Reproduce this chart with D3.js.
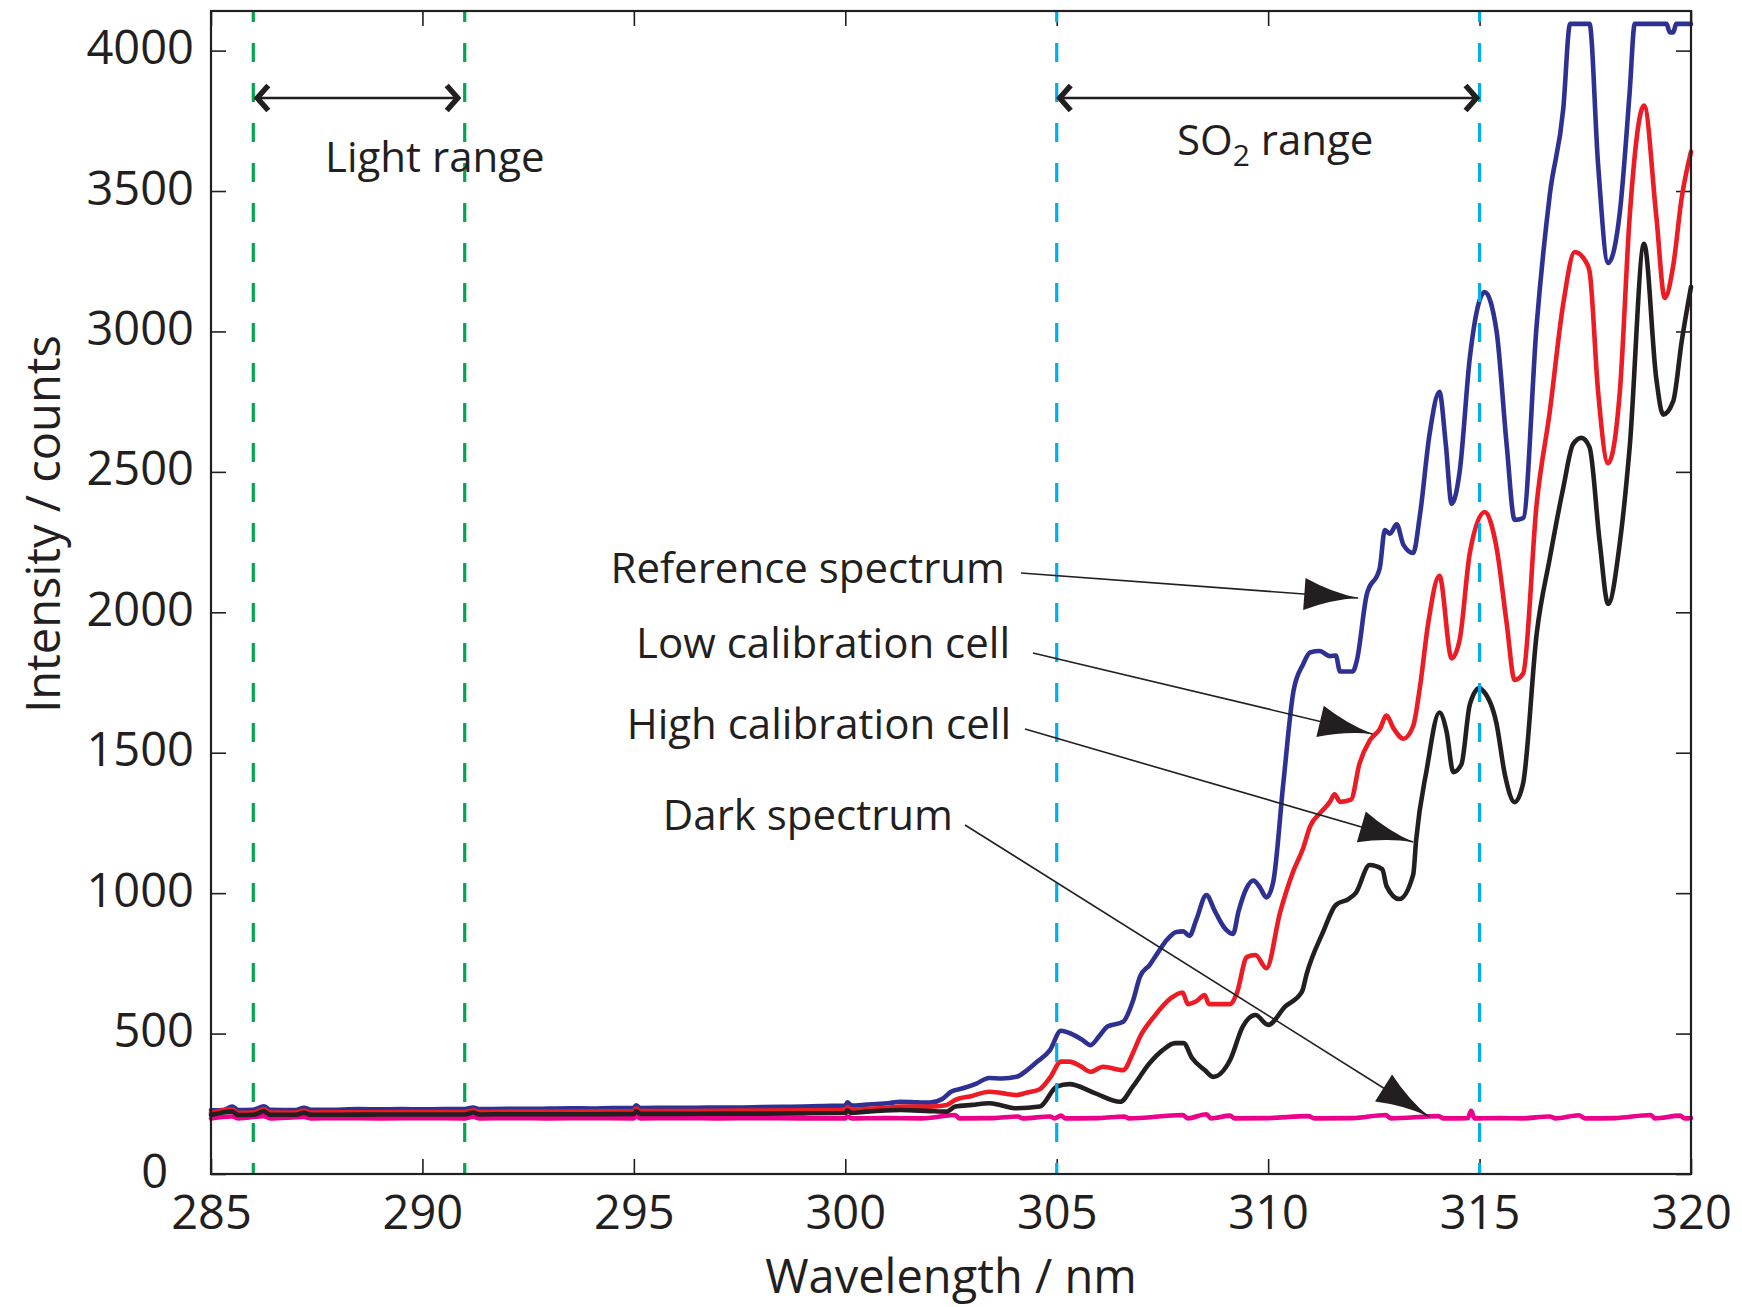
<!DOCTYPE html>
<html>
<head>
<meta charset="utf-8">
<script src="https://cdn.jsdelivr.net/npm/d3@7"></script>
<style>
  html, body { margin: 0; padding: 0; background: #ffffff; }
  svg { display: block; }
  text { font-family: "Open Sans", "Noto Sans", sans-serif; fill: #231f20; }
</style>
</head>
<body>
<svg id="chart" width="1742" height="1307"></svg>
<script>
// ---------------- DATA ----------------
const xTicks = [285, 290, 295, 300, 305, 310, 315, 320];
const yTicks = [0, 500, 1000, 1500, 2000, 2500, 3000, 3500, 4000];

// [wavelength nm, intensity counts]
const referenceSpectrum = [
[285.0,227],[285.3,228],[285.5,240],[285.65,228],[286.0,229],[286.25,241],[286.4,229],[287.0,228],[287.2,236],[287.35,229],[288.0,229],[288.5,231],[289.0,230],[289.5,231],[290.0,230],[290.5,231],[291.0,231],[291.2,237],[291.35,231],[292.0,232],[292.5,232],[293.0,233],[293.5,234],[294.0,233],[294.5,235],[295.0,235],[295.05,245],[295.15,235],[296.0,236],[296.5,236],[297.0,237],[297.5,237],[298.0,238],[298.5,239],[299.0,240],[299.5,242],[300.0,244],[300.05,255],[300.15,244],[300.5,247],[301.0,252],[301.3,257],[301.7,255],[302.0,254],[302.3,268],[302.5,293],[302.8,306],[303.1,322],[303.4,342],[303.7,340],[304.05,346],[304.3,370],[304.5,395],[304.84,441],[305.1,510],[305.3,502],[305.6,478],[305.8,459],[306.0,490],[306.2,525],[306.57,542],[306.8,615],[306.97,703],[307.2,745],[307.4,790],[307.6,833],[307.83,862],[307.99,864],[308.14,848],[308.3,905],[308.54,993],[308.74,936],[308.97,876],[309.17,855],[309.3,935],[309.49,1018],[309.65,1045],[309.8,1022],[309.96,985],[310.12,1040],[310.36,1393],[310.6,1720],[310.83,1816],[310.99,1857],[311.22,1862],[311.46,1844],[311.6,1846],[311.7,1789],[312.0,1789],[312.1,1830],[312.33,2062],[312.64,2158],[312.76,2293],[312.88,2280],[313.04,2313],[313.2,2240],[313.43,2211],[313.59,2347],[313.82,2637],[314.05,2785],[314.2,2600],[314.34,2386],[314.53,2502],[314.77,2907],[315.12,3140],[315.4,3003],[315.64,2598],[315.83,2329],[316.03,2335],[316.35,3023],[316.66,3486],[316.98,3794],[317.14,4095],[317.6,4095],[317.8,3601],[318.04,3244],[318.32,3428],[318.55,3853],[318.67,4095],[319.42,4095],[319.5,4065],[319.58,4065],[319.65,4095],[320.0,4095]
];

const lowCalibrationCell = [
[285.0,218],[285.5,230],[285.65,218],[286.0,219],[286.25,231],[286.4,219],[287.0,219],[287.2,226],[287.35,219],[288.0,220],[289.0,220],[290.0,221],[291.0,221],[291.2,227],[291.35,221],[292.0,222],[293.0,222],[294.0,223],[295.0,224],[295.05,234],[295.15,224],[296.0,224],[297.0,225],[298.0,226],[299.0,227],[300.0,228],[300.05,238],[300.15,229],[300.5,232],[301.0,236],[301.3,240],[302.0,240],[302.4,246],[302.6,264],[303.0,278],[303.4,293],[303.7,288],[304.05,281],[304.3,290],[304.6,302],[304.85,345],[305.1,400],[305.3,400],[305.55,385],[305.8,364],[306.1,382],[306.57,370],[306.8,430],[306.97,489],[307.3,560],[307.7,626],[307.98,646],[308.1,605],[308.3,615],[308.5,637],[308.6,605],[309.1,605],[309.25,640],[309.5,773],[309.7,780],[309.96,733],[310.28,930],[310.6,1080],[310.83,1161],[310.99,1237],[311.22,1284],[311.46,1325],[311.57,1352],[311.7,1325],[311.96,1333],[312.16,1461],[312.4,1543],[312.64,1584],[312.8,1632],[312.96,1588],[313.2,1550],[313.43,1595],[313.59,1734],[313.79,1966],[314.05,2130],[314.34,1836],[314.53,1903],[314.77,2212],[315.12,2357],[315.4,2231],[315.64,1962],[315.83,1759],[316.03,1782],[316.35,2386],[316.66,2714],[316.98,3100],[317.25,3283],[317.49,3254],[317.6,3215],[317.8,2791],[318.04,2531],[318.32,2791],[318.55,3409],[318.89,3804],[319.18,3409],[319.38,3119],[319.58,3235],[319.78,3476],[320.0,3640]
];

const highCalibrationCell = [
[285.0,210],[285.5,222],[285.65,210],[286.0,211],[286.25,223],[286.4,211],[287.0,211],[287.2,218],[287.35,211],[288.0,211],[289.0,212],[290.0,212],[291.0,212],[291.2,219],[291.35,212],[292.0,213],[293.0,213],[294.0,213],[295.0,214],[295.05,224],[295.15,214],[296.0,214],[297.0,215],[298.0,215],[299.0,216],[300.0,217],[300.05,226],[300.15,217],[300.5,222],[301.3,228],[302.0,224],[302.4,222],[302.6,240],[303.0,246],[303.4,252],[303.7,244],[304.05,234],[304.6,240],[305.0,311],[305.3,320],[305.9,288],[306.5,257],[306.8,311],[307.2,395],[307.5,440],[307.8,466],[308.0,466],[308.2,413],[308.5,370],[308.7,346],[309.1,406],[309.4,525],[309.7,566],[310.0,531],[310.4,596],[310.8,649],[310.91,712],[311.3,862],[311.6,958],[311.9,979],[312.07,1000],[312.4,1100],[312.7,1085],[312.8,1025],[313.1,979],[313.43,1066],[313.5,1189],[313.75,1440],[314.05,1643],[314.22,1575],[314.38,1431],[314.57,1458],[314.77,1672],[315.0,1730],[315.08,1721],[315.4,1604],[315.6,1421],[315.83,1324],[316.03,1391],[316.35,1923],[316.66,2192],[316.98,2444],[317.21,2598],[317.41,2621],[317.6,2588],[317.84,2251],[318.04,2030],[318.32,2251],[318.55,2588],[318.89,3312],[319.18,2831],[319.34,2704],[319.58,2752],[319.78,2965],[320.0,3159]
];

const darkSpectrum = [
[285.0,198],[285.5,205],[285.65,198],[286.25,206],[286.4,198],[287.2,203],[287.35,198],[288.0,199],[289.0,198],[290.0,199],[291.0,198],[291.2,204],[291.35,198],[292.0,199],[293.0,198],[294.0,199],[295.0,198],[295.05,207],[295.15,198],[296.0,199],[297.0,198],[298.0,199],[299.0,198],[300.0,198],[300.05,205],[300.15,198],[301.0,199],[301.8,198],[302.6,210],[302.7,198],[303.5,199],[304.08,205],[304.2,198],[304.84,205],[304.95,198],[305.1,208],[305.2,198],[306.0,199],[306.6,205],[306.7,198],[307.98,210],[308.1,198],[308.54,213],[308.65,198],[309.1,208],[309.2,198],[310.0,199],[310.95,206],[311.1,198],[312.0,199],[312.78,210],[312.9,198],[314.03,206],[314.15,198],[314.72,199],[314.8,225],[314.88,198],[315.5,199],[316.0,198],[316.66,205],[316.8,198],[317.35,209],[317.5,198],[318.2,199],[319.05,210],[319.15,198],[319.74,208],[319.85,198],[320.0,199]
];

const seriesNames = ["Dark spectrum", "Reference spectrum", "Low calibration cell", "High calibration cell"];
const seriesData = [darkSpectrum, referenceSpectrum, lowCalibrationCell, highCalibrationCell];
const seriesColors = ["#ec008c", "#2e3192", "#ed1c24", "#231f20"];

// range markers (nm)
const lightRange = [286, 291];
const so2Range = [305, 315];

// annotation arrow tips in data space [nm, counts]
const labelTips = [
  [312.13, 2051],   // Reference spectrum
  [312.47, 1567],   // Low calibration cell
  [313.43, 1182],   // High calibration cell
  [313.81, 204]     // Dark spectrum
];

// ---------------- LAYOUT ----------------
const svg = d3.select("#chart");
const W = 1742, H = 1307;
svg.append("rect").attr("width", W).attr("height", H).attr("fill", "#fff");

const L = 211, R = 1691, T = 11, B = 1174;
const x = d3.scaleLinear().domain([285, 320]).range([L, R]);
const y = d3.scaleLinear().domain([0, 4141]).range([B, T]);

const ink = "#231f20";
const tickFont = 47;

// axes
const gx = svg.append("g").attr("transform", `translate(0,${B})`)
  .call(d3.axisBottom(x).tickValues(xTicks).tickSize(-15).tickSizeOuter(0).tickFormat(d3.format("d")));
gx.selectAll("text").attr("y", 55).attr("dy", 0).style("font-size", tickFont + "px");

const gy = svg.append("g").attr("transform", `translate(${L},0)`)
  .call(d3.axisLeft(y).tickValues(yTicks).tickSize(-15).tickSizeOuter(0).tickPadding(17).tickFormat(d3.format("d")));
gy.selectAll("text").attr("dy", 0).attr("y", 13).style("font-size", tickFont + "px")
  .attr("dx", d => d === 0 ? -26 : 0);

svg.append("g").attr("transform", `translate(0,${T})`)
  .call(d3.axisTop(x).tickValues(xTicks).tickSize(-15).tickSizeOuter(0).tickFormat(""));
svg.append("g").attr("transform", `translate(${R},0)`)
  .call(d3.axisRight(y).tickValues(yTicks).tickSize(-15).tickSizeOuter(0).tickFormat(""));

svg.selectAll(".domain").remove();
svg.selectAll(".tick line").attr("stroke", ink).attr("stroke-width", 1.6);
svg.selectAll(".tick text").attr("fill", ink).style("font-family", '"Open Sans", sans-serif');

// curves
const line = d3.line().x(d => x(d[0])).y(d => y(d[1])).curve(d3.curveMonotoneX);
svg.append("g").selectAll("path").data(seriesData).join("path")
  .attr("d", line)
  .attr("fill", "none")
  .attr("stroke", (d, i) => seriesColors[i])
  .attr("stroke-width", 4.6)
  .attr("stroke-linejoin", "round")
  .attr("stroke-linecap", "round");

// dashed range lines
const dashes = [
  {v: lightRange[0], c: "#00a651"}, {v: lightRange[1], c: "#00a651"},
  {v: so2Range[0], c: "#00aeef"}, {v: so2Range[1], c: "#00aeef"}
];
svg.append("g").selectAll("line").data(dashes).join("line")
  .attr("x1", d => x(d.v)).attr("x2", d => x(d.v))
  .attr("y1", T).attr("y2", B)
  .attr("stroke", d => d.c).attr("stroke-width", 3.2)
  .attr("stroke-dasharray", "19,21").attr("stroke-dashoffset", 8);

// frame
svg.append("rect").attr("x", L).attr("y", T).attr("width", R - L).attr("height", B - T)
  .attr("fill", "none").attr("stroke", ink).attr("stroke-width", 2.2);

// range double arrows
function rangeArrow(r, yy, insetL, insetR) {
  const x1 = x(r[0]) + insetL, x2 = x(r[1]) - insetR;
  const g = svg.append("g");
  g.append("line").attr("x1", x1).attr("x2", x2).attr("y1", yy).attr("y2", yy)
    .attr("stroke", ink).attr("stroke-width", 2.4);
  const hw = 12.5, dl = 13;
  g.append("path").attr("d", `M${x1 + dl},${yy - hw} L${x1 + 2},${yy} L${x1 + dl},${yy + hw}`)
    .attr("fill", "none").attr("stroke", ink).attr("stroke-width", 5.5).attr("stroke-linejoin", "miter");
  g.append("path").attr("d", `M${x2 - dl},${yy - hw} L${x2 - 2},${yy} L${x2 - dl},${yy + hw}`)
    .attr("fill", "none").attr("stroke", ink).attr("stroke-width", 5.5).attr("stroke-linejoin", "miter");
}
rangeArrow(lightRange, 98, 2, 5);
rangeArrow(so2Range, 98, 1, 1);

svg.append("text").attr("x", 325).attr("y", 172).style("font-size", "42px").text("Light range");
const so2 = svg.append("text").attr("x", 1177).attr("y", 155).style("font-size", "42px");
so2.append("tspan").text("SO");
so2.append("tspan").attr("dy", 11).style("font-size", "30px").text("2");
so2.append("tspan").attr("dy", -11).text(" range");

// series labels with arrows
const labelPos = [
  {text: "Reference spectrum", tx: 1005, ty: 583, sx: 1021, sy: 573},
  {text: "Low calibration cell", tx: 1010, ty: 658, sx: 1033, sy: 653},
  {text: "High calibration cell", tx: 1011, ty: 739, sx: 1025, sy: 729},
  {text: "Dark spectrum", tx: 953, ty: 830, sx: 965, sy: 825}
];
const ann = svg.append("g");
labelPos.forEach((p, i) => {
  ann.append("text").attr("x", p.tx).attr("y", p.ty).attr("text-anchor", "end")
    .style("font-size", "42px").text(p.text);
  const tx = x(labelTips[i][0]), ty = y(labelTips[i][1]);
  ann.append("line").attr("x1", p.sx).attr("y1", p.sy).attr("x2", tx).attr("y2", ty)
    .attr("stroke", ink).attr("stroke-width", 1.6);
  const ang = Math.atan2(ty - p.sy, tx - p.sx) * 180 / Math.PI;
  const Lh = 54, Wh = 16;
  ann.append("path")
    .attr("d", `M0,0 Q${-Lh * 0.5},${-Wh * 0.22} ${-Lh},${-Wh} L${-Lh},${Wh} Q${-Lh * 0.5},${Wh * 0.22} 0,0 Z`)
    .attr("transform", `translate(${tx},${ty}) rotate(${ang})`)
    .attr("fill", ink);
});

// axis titles
svg.append("text").attr("x", 951).attr("y", 1293).attr("text-anchor", "middle")
  .style("font-size", "47px").text("Wavelength / nm");
svg.append("text").attr("transform", "translate(60,524) rotate(-90)").attr("text-anchor", "middle")
  .style("font-size", "47px").text("Intensity / counts");
</script>
</body>
</html>
